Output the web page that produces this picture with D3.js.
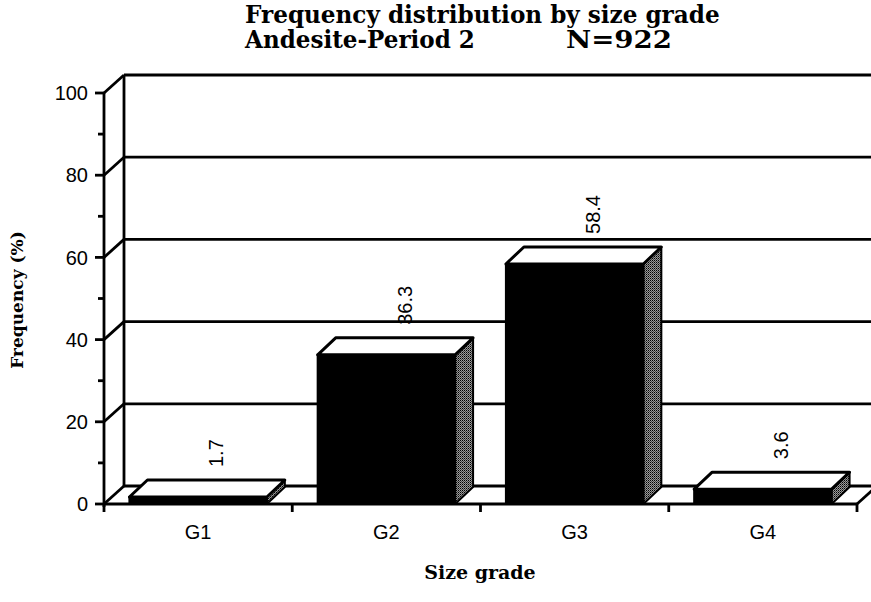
<!DOCTYPE html>
<html><head><meta charset="utf-8">
<script src="https://cdn.jsdelivr.net/npm/d3@7/dist/d3.min.js"></script>
<style>html,body{margin:0;padding:0;background:#fff}svg{display:block}</style>
</head><body>
<svg id="c" width="871" height="602"></svg>
<script>
const titleLine1 = "Frequency distribution by size grade";
const titleLine2a = "Andesite-Period 2";
const titleLine2b = "N=922";
const yTitle = "Frequency (%)";
const xTitle = "Size grade";
const categories = ["G1", "G2", "G3", "G4"];
const values = [1.7, 36.3, 58.4, 3.6];
const valueLabels = ["1.7", "36.3", "58.4", "3.6"];
const yMajorTicks = [0, 20, 40, 60, 80, 100];
const yMinorTicks = [10, 30, 50, 70, 90];

const svg = d3.select("#c");
const W = 871, H = 602;
const x0 = 104, x1 = 857, yBase = 504, yTop = 93;
const wallDx = 20, wallDy = 18;
const barDx = 18, barDy = 17;
const serif = "'DejaVu Serif', 'Liberation Serif', serif";
const sans = "'Liberation Sans', Arial, Helvetica, sans-serif";

const y = d3.scaleLinear().domain([0, 100]).range([yBase, yTop]);
const x = d3.scaleBand().domain(categories).range([x0, x1])
  .paddingInner(0.27).paddingOuter(0.135);
const step = x.step();

// stipple pattern for side faces
const defs = svg.append("defs");
const pat = defs.append("pattern").attr("id", "dots").attr("width", 2).attr("height", 2)
  .attr("patternUnits", "userSpaceOnUse");
pat.append("rect").attr("width", 2).attr("height", 2).attr("fill", "#9a9a9a");
pat.append("rect").attr("width", 1).attr("height", 1).attr("fill", "#000");
pat.append("rect").attr("x", 1).attr("y", 1).attr("width", 1).attr("height", 1).attr("fill", "#444");

const lw = 2.8;
const g = svg.append("g");

// back wall gridlines + diagonals to the front axis
yMajorTicks.forEach(v => {
  const yy = y(v);
  g.append("line").attr("x1", x0 + wallDx).attr("x2", W + 10)
    .attr("y1", yy - wallDy).attr("y2", yy - wallDy)
    .attr("stroke", "#000").attr("stroke-width", lw);
  g.append("line").attr("x1", x0).attr("y1", yy).attr("x2", x0 + wallDx).attr("y2", yy - wallDy)
    .attr("stroke", "#000").attr("stroke-width", lw);
});
// back wall left edge
g.append("line").attr("x1", x0 + wallDx).attr("x2", x0 + wallDx)
  .attr("y1", y(100) - wallDy).attr("y2", yBase - wallDy)
  .attr("stroke", "#000").attr("stroke-width", lw);
// floor front line and right diagonal
g.append("line").attr("x1", x0).attr("x2", x1).attr("y1", yBase).attr("y2", yBase)
  .attr("stroke", "#000").attr("stroke-width", lw);
g.append("line").attr("x1", x1).attr("y1", yBase).attr("x2", x1 + wallDx).attr("y2", yBase - wallDy)
  .attr("stroke", "#000").attr("stroke-width", lw);
// front y axis
g.append("line").attr("x1", x0).attr("x2", x0).attr("y1", y(100)).attr("y2", yBase + 3)
  .attr("stroke", "#000").attr("stroke-width", lw);

// y ticks
yMajorTicks.forEach(v => {
  g.append("line").attr("x1", x0 - 9).attr("x2", x0).attr("y1", y(v)).attr("y2", y(v))
    .attr("stroke", "#000").attr("stroke-width", lw);
  g.append("text").attr("x", x0 - 16).attr("y", y(v)).attr("dy", "0.36em")
    .attr("text-anchor", "end").attr("font-family", sans).attr("font-size", 20)
    .attr("fill", "#000").text(v);
});
yMinorTicks.forEach(v => {
  g.append("line").attr("x1", x0 - 6).attr("x2", x0).attr("y1", y(v)).attr("y2", y(v))
    .attr("stroke", "#000").attr("stroke-width", lw);
});

// x ticks at band boundaries
const boundaries = categories.map(c => x(c) - step * 0.135).concat([x1]);
boundaries.forEach(bx => {
  g.append("line").attr("x1", bx).attr("x2", bx).attr("y1", yBase).attr("y2", yBase + 8)
    .attr("stroke", "#000").attr("stroke-width", lw);
});

// bars
categories.forEach((c, i) => {
  const v = values[i];
  const bx0 = x(c), bx1 = x(c) + x.bandwidth();
  const yt = y(v);
  g.append("path")
    .attr("d", `M${bx1},${yt}L${bx1 + barDx},${yt - barDy}L${bx1 + barDx},${yBase - barDy}L${bx1},${yBase}Z`)
    .attr("fill", "url(#dots)").attr("stroke", "#000").attr("stroke-width", 2).attr("stroke-linejoin", "round");
  g.append("rect").attr("x", bx0).attr("y", yt).attr("width", bx1 - bx0).attr("height", yBase - yt)
    .attr("fill", "#000").attr("stroke", "#000").attr("stroke-width", 2);
  g.append("path")
    .attr("d", `M${bx0},${yt}L${bx0 + barDx},${yt - barDy}L${bx1 + barDx},${yt - barDy}L${bx1},${yt}Z`)
    .attr("fill", "#fff").attr("stroke", "#000").attr("stroke-width", 3).attr("stroke-linejoin", "round");
  const lx = (bx0 + bx1) / 2 + barDx;
  const ly = yt - barDy - 13;
  g.append("text").attr("transform", `translate(${lx},${ly}) rotate(-90)`)
    .attr("dy", "0.36em").attr("text-anchor", "start")
    .attr("font-family", sans).attr("font-size", 20).attr("fill", "#000")
    .text(valueLabels[i]);
  g.append("text").attr("x", x(c) + x.bandwidth() / 2).attr("y", 539)
    .attr("text-anchor", "middle").attr("font-family", sans).attr("font-size", 20)
    .attr("fill", "#000").text(c);
});

// titles (horizontally fitted to the reference widths)
function fitted(str, xPos, yPos, size, targetW) {
  const t = svg.append("text").attr("font-family", serif).attr("font-weight", "bold")
    .attr("font-size", size).attr("fill", "#000").text(str);
  const w = t.node().getComputedTextLength();
  const s = targetW / w;
  t.attr("transform", `translate(${xPos},${yPos}) scale(${s},1)`);
  return s;
}
fitted(titleLine1, 245, 23, 23.5, 475);
fitted(titleLine2a, 245, 48, 23.5, 230);
fitted(titleLine2b, 566, 48, 23.5, 106);

svg.append("text").attr("transform", "translate(23,300) rotate(-90)")
  .attr("text-anchor", "middle").attr("font-family", serif).attr("font-weight", "bold")
  .attr("font-size", 17).attr("fill", "#000").text(yTitle);

svg.append("text").attr("x", 480).attr("y", 579).attr("text-anchor", "middle")
  .attr("font-family", serif).attr("font-weight", "bold").attr("font-size", 19)
  .attr("fill", "#000").text(xTitle);
</script>
</body></html>
